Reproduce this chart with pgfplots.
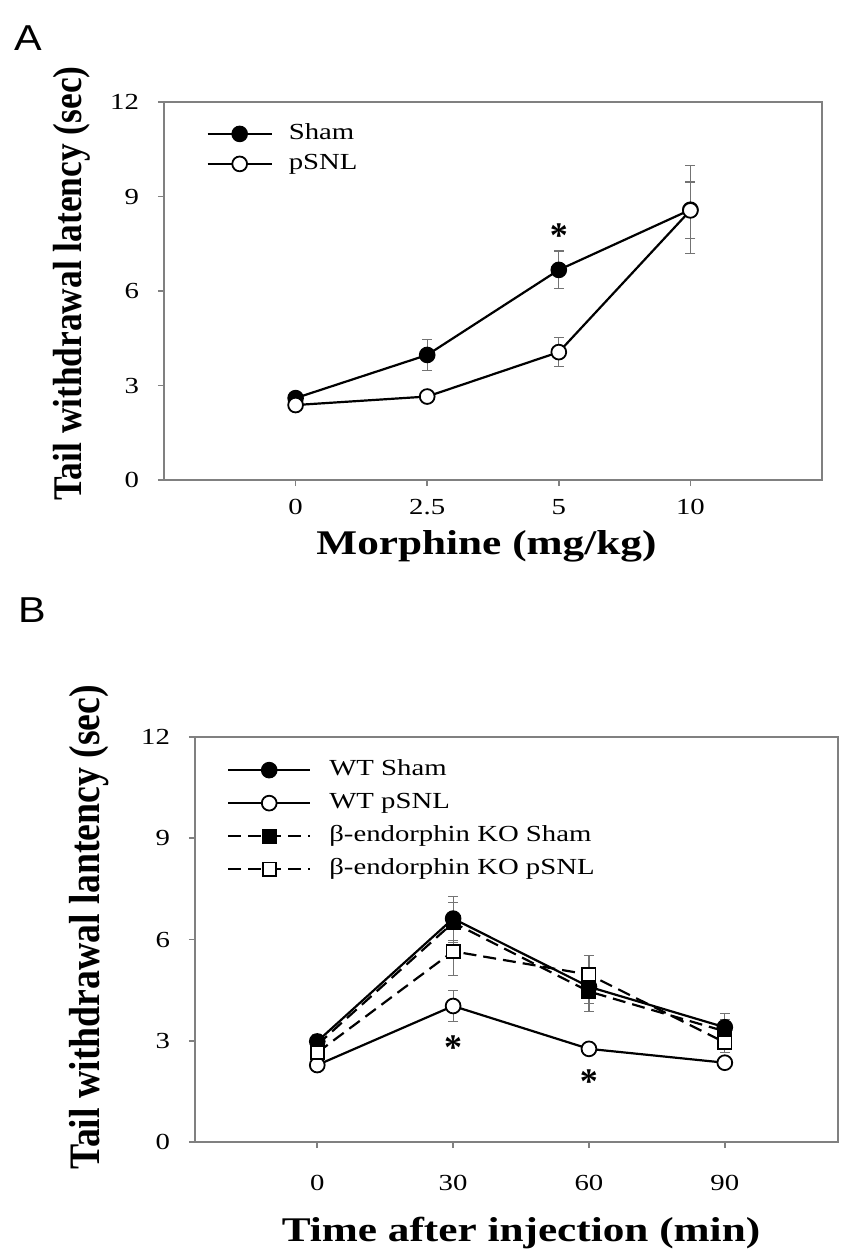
\documentclass[border=0pt]{standalone}
\usepackage{fontspec}
\setmainfont{Liberation Serif}
\newfontfamily\wserif[FakeStretch=1.25]{Liberation Serif}
\newfontfamily\wsans[FakeStretch=1.15]{Liberation Sans}
\usepackage{pgfplots}
\usepackage{pgfplotstable}
\pgfplotsset{compat=1.18}

% panel A: x = category index (0, 2.5, 5, 10 mg/kg)
\pgfplotstableread{
x y e
0 2.60 0.15
1 3.97 0.50
2 6.67 0.60
3 8.58 1.40
}\shamA
\pgfplotstableread{
x y e
0 2.38 0.12
1 2.65 0.12
2 4.06 0.46
3 8.56 0.90
}\psnlA

% panel B: time after injection (min)
\pgfplotstableread{
x y e
0 2.98 0.20
30 6.62 0.65
60 4.60 0.50
90 3.40 0.40
}\wtSham
\pgfplotstableread{
x y e
0 2.28 0.15
30 4.03 0.47
60 2.76 0.12
90 2.35 0.12
}\wtPsnl
\pgfplotstableread{
x y e
0 2.88 0.20
30 6.50 0.60
60 4.46 0.60
90 3.28 0.35
}\koSham
\pgfplotstableread{
x y e
0 2.65 0.20
30 5.65 0.72
60 4.96 0.56
90 2.95 0.30
}\koPsnl

\pgfplotsset{
  panel/.style={
    scale only axis,
    axis line style={black!50, line width=0.8pt},
    tick style={black!50, line width=0.8pt},
    tick align=outside, major tick length=3pt,
    xtick pos=bottom, ytick pos=left,
    ymin=0, ymax=12, ytick={0,3,6,9,12},
    ticklabel style={font=\wserif\fontsize{11.5}{11.5}\selectfont},
    /pgf/number format/assume math mode=true,
    yticklabel style={xshift=-6pt},
    legend cell align=left,
  },
  ser/.style={black, line width=1.1pt, mark size=3.7pt,
    error bars/y dir=both, error bars/y explicit,
    error bars/error bar style={black!55, line width=0.6pt, solid},
    error bars/error mark options={rotate=90, mark size=2.5pt, black!55, line width=0.6pt}},
  full/.style={mark options={solid, fill=black, line width=0.9pt}},
  hollow/.style={mark options={solid, fill=white, line width=0.9pt}},
}

\begin{document}
\begin{tikzpicture}
\useasboundingbox (0,0) rectangle (421pt,-627pt);

\node[font=\wsans\fontsize{18}{18}\selectfont] at (14pt,-19pt) {A};
\node[font=\wsans\fontsize{18}{18}\selectfont] at (16pt,-305pt) {B};

\begin{axis}[panel,
  at={(82pt,-240pt)}, anchor=south west,
  width=329pt, height=189pt,
  xmin=-1, xmax=4, xtick={0,1,2,3}, xticklabels={0,2.5,5,10},
  xticklabel style={yshift=-3pt},
  xlabel={Morphine (mg/kg)},
  xlabel style={font=\wserif\bfseries\fontsize{17.3}{18}\selectfont,
    at={(axis description cs:0.49,-0.175)}, anchor=center},
  ylabel={\scalebox{1}[1.15]{Tail withdrawal latency (sec)}},
  ylabel style={font=\bfseries\fontsize{17.7}{18}\selectfont,
    at={(axis description cs:-0.14,0.52)}, anchor=center},
  legend style={draw=none, fill=none, at={(axis description cs:0.055,0.955)},
    anchor=north west, font=\wserif\fontsize{11.5}{11.5}\selectfont,
    nodes={inner sep=0pt, text height=8pt, text depth=2.5pt},
    row sep=4.5pt, column sep=8pt},
  legend image code/.code={\draw[mark repeat=2,mark phase=2]
    plot coordinates {(0pt,0pt) (16pt,0pt) (32pt,0pt)};},
]
\addplot[ser, mark=*, full] table[x=x, y=y, y error=e] {\shamA};
\addlegendentry{Sham}
\addplot[ser, mark=*, hollow] table[x=x, y=y, y error=e] {\psnlA};
\addlegendentry{pSNL}
\node[font=\bfseries\fontsize{18}{18}\selectfont] at (axis cs:2,7.75) {*};
\end{axis}

\begin{axis}[panel,
  at={(97.5pt,-571pt)}, anchor=south west,
  width=321.5pt, height=202.5pt,
  xmin=-27, xmax=115, xtick={0,30,60,90},
  xticklabel style={yshift=-10pt},
  xlabel={Time after injection (min)},
  xlabel style={font=\wserif\bfseries\fontsize{17.3}{18}\selectfont,
    at={(axis description cs:0.507,-0.225)}, anchor=center},
  ylabel={\scalebox{1}[1.15]{Tail withdrawal lantency (sec)}},
  ylabel style={font=\bfseries\fontsize{18.9}{19}\selectfont,
    at={(axis description cs:-0.165,0.53)}, anchor=center},
  legend style={draw=none, fill=none, at={(axis description cs:0.04,0.955)},
    anchor=north west, font=\wserif\fontsize{11.5}{11.5}\selectfont,
    nodes={inner sep=0pt, text height=8pt, text depth=2.5pt},
    row sep=6pt, column sep=9pt},
  legend image code/.code={\draw[mark repeat=2,mark phase=2]
    plot coordinates {(0pt,0pt) (20.5pt,0pt) (41pt,0pt)};},
]
\addplot[ser, mark=*, full] table[x=x, y=y, y error=e] {\wtSham};
\addlegendentry{WT Sham}
\addplot[ser, mark=*, hollow] table[x=x, y=y, y error=e] {\wtPsnl};
\addlegendentry{WT pSNL}
\addplot[ser, dash pattern=on 6.5pt off 3.5pt, mark=square*, mark size=3.3pt,
  full] table[x=x, y=y, y error=e] {\koSham};
\addlegendentry{β-endorphin KO Sham}
\addplot[ser, dash pattern=on 6.5pt off 3.5pt, mark=square*, mark size=3.3pt,
  hollow] table[x=x, y=y, y error=e] {\koPsnl};
\addlegendentry{β-endorphin KO pSNL}
\node[font=\bfseries\fontsize{18}{18}\selectfont] at (axis cs:30,2.8) {*};
\node[font=\bfseries\fontsize{18}{18}\selectfont] at (axis cs:60,1.8) {*};
\end{axis}
\end{tikzpicture}
\end{document}
